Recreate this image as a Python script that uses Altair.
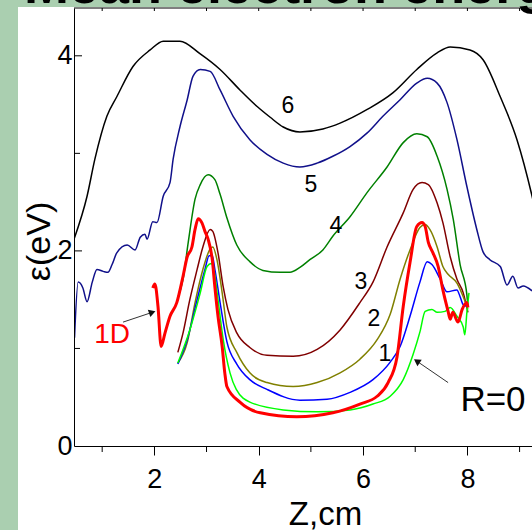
import altair as alt
import pandas as pd

FONT = "Liberation Sans"

# Mean electron energy eps (eV) along the axis Z (cm) for several radii
z6 = [0.46, 0.71, 0.86, 1.09, 1.28, 1.59, 1.92, 2.17, 2.49, 2.88, 3.26, 3.64, 3.97, 4.22,
      4.47, 4.79, 5.23, 5.56, 6.08, 6.57, 7.03, 7.42, 7.67, 8.05, 8.30, 8.63, 8.95, 9.24, 9.35]
e6 = [2.12, 2.56, 2.94, 3.38, 3.58, 3.89, 4.06, 4.15, 4.15, 4.02, 3.86, 3.65, 3.48, 3.37,
      3.27, 3.22, 3.25, 3.31, 3.45, 3.62, 3.86, 4.03, 4.09, 4.06, 3.96, 3.58, 3.14, 2.56, 2.30]

z5 = [0.47, 0.54, 0.63, 0.71, 0.81, 0.90, 1.02, 1.11, 1.19, 1.28, 1.48, 1.63, 1.73, 1.82,
      1.86, 1.97, 2.05, 2.17, 2.30, 2.36, 2.49, 2.63, 2.74, 2.88, 3.07, 3.26, 3.51, 3.83,
      4.16, 4.47, 4.79, 5.12, 5.42, 5.75, 6.08, 6.38, 6.71, 7.03, 7.23, 7.42, 7.61, 7.80,
      7.99, 8.18, 8.30, 8.43, 8.63, 8.76, 8.87, 8.97, 9.07, 9.24]
e5 = [1.11, 1.68, 1.62, 1.48, 1.68, 1.81, 1.79, 1.78, 1.86, 1.98, 2.06, 2.01, 2.14, 2.17,
      2.12, 2.30, 2.29, 2.56, 2.70, 2.94, 3.27, 3.55, 3.79, 3.86, 3.84, 3.65, 3.38, 3.14,
      2.99, 2.90, 2.86, 2.90, 2.97, 3.07, 3.21, 3.38, 3.55, 3.72, 3.77, 3.72, 3.52, 3.14,
      2.66, 2.22, 1.99, 1.91, 1.84, 1.65, 1.74, 1.62, 1.64, 1.59]

z4 = [2.45, 2.55, 2.65, 2.78, 2.88, 3.03, 3.16, 3.26, 3.39, 3.58, 3.83, 4.08, 4.41, 4.60,
      4.79, 4.98, 5.23, 5.42, 5.75, 6.08, 6.46, 6.77, 7.03, 7.23, 7.42, 7.61, 7.73, 7.86,
      7.99, 8.01]
e4 = [1.52, 1.71, 2.09, 2.53, 2.68, 2.78, 2.73, 2.58, 2.34, 2.06, 1.89, 1.80, 1.78, 1.78,
      1.83, 1.91, 2.01, 2.15, 2.35, 2.60, 2.86, 3.11, 3.20, 3.17, 2.97, 2.63, 2.32, 1.86,
      1.55, 1.43]

z3 = [2.45, 2.55, 2.68, 2.82, 2.93, 3.07, 3.12, 3.22, 3.32, 3.41, 3.58, 3.83, 4.16, 4.66,
      5.12, 5.56, 5.94, 6.19, 6.46, 6.77, 6.96, 7.13, 7.25, 7.42, 7.53, 7.67, 7.80, 7.92,
      8.01]
e3 = [0.96, 1.16, 1.50, 1.81, 2.04, 2.22, 2.20, 1.98, 1.63, 1.40, 1.16, 1.01, 0.93, 0.92,
      0.99, 1.19, 1.47, 1.68, 2.04, 2.39, 2.63, 2.70, 2.68, 2.49, 2.29, 1.94, 1.71, 1.57,
      1.37]

z2 = [2.45, 2.63, 2.78, 2.93, 3.07, 3.12, 3.20, 3.30, 3.39, 3.58, 3.83, 4.16, 4.66, 5.12,
      5.56, 5.94, 6.27, 6.52, 6.71, 6.90, 7.09, 7.19, 7.28, 7.42, 7.53, 7.63, 7.80, 7.92,
      8.01]
e2 = [0.85, 1.06, 1.47, 1.81, 2.02, 2.04, 1.91, 1.57, 1.22, 0.96, 0.75, 0.65, 0.61, 0.65,
      0.75, 0.89, 1.09, 1.35, 1.71, 2.01, 2.24, 2.27, 2.22, 2.04, 1.84, 1.76, 1.67, 1.53,
      1.40]

z1 = [2.45, 2.63, 2.82, 2.97, 3.05, 3.11, 3.16, 3.26, 3.39, 3.58, 3.83, 4.16, 4.79, 5.31,
      5.75, 6.19, 6.52, 6.71, 6.90, 7.09, 7.23, 7.32, 7.48, 7.61, 7.80, 7.86, 7.92, 8.01]
e1 = [0.84, 1.09, 1.50, 1.81, 1.95, 1.95, 1.81, 1.47, 1.07, 0.84, 0.68, 0.58, 0.47, 0.48,
      0.55, 0.68, 0.86, 1.02, 1.33, 1.68, 1.89, 1.86, 1.71, 1.58, 1.60, 1.53, 1.45, 1.43]

z0 = [2.45, 2.68, 2.88, 3.01, 3.09, 3.14, 3.22, 3.32, 3.45, 3.57, 3.83, 4.47, 5.12, 5.75,
      6.19, 6.52, 6.77, 6.96, 7.09, 7.19, 7.32, 7.42, 7.57, 7.67, 7.80, 7.92, 7.95, 7.99,
      8.03]
e0 = [0.85, 1.19, 1.57, 1.84, 1.87, 1.81, 1.50, 1.09, 0.75, 0.58, 0.45, 0.37, 0.35, 0.37,
      0.43, 0.51, 0.68, 0.94, 1.17, 1.38, 1.40, 1.37, 1.38, 1.42, 1.33, 1.22, 1.14, 1.37,
      1.57]

# one-dimensional model
z1d = [1.97, 2.01, 2.07, 2.13, 2.20, 2.30, 2.43, 2.55, 2.63, 2.72, 2.78, 2.84, 2.91, 2.97,
       3.03, 3.11, 3.16, 3.22, 3.30, 3.35, 3.39, 3.64, 4.03, 4.73, 5.42, 5.94, 6.27, 6.48,
       6.65, 6.77, 6.90, 7.03, 7.13, 7.19, 7.25, 7.34, 7.44, 7.53, 7.63, 7.67, 7.72, 7.82,
       7.90, 7.99, 8.01]
e1d = [1.62, 1.66, 1.43, 1.02, 1.15, 1.33, 1.47, 1.74, 1.94, 2.04, 2.22, 2.33, 2.29, 2.20,
       2.12, 1.91, 1.63, 1.33, 1.02, 0.75, 0.61, 0.45, 0.34, 0.30, 0.34, 0.43, 0.51, 0.65,
       0.91, 1.43, 1.88, 2.25, 2.29, 2.25, 2.09, 1.98, 1.84, 1.60, 1.38, 1.30, 1.37, 1.27,
       1.40, 1.47, 1.42]

curve_names = ["6", "5", "4", "3", "2", "1", "R=0"]
curve_colors = ["#000000", "#10108a", "#008000", "#800000", "#808000", "#0000ff", "#00ff00"]
series = [("6", z6, e6), ("5", z5, e5), ("4", z4, e4), ("3", z3, e3),
          ("2", z2, e2), ("1", z1, e1), ("R=0", z0, e0)]

# curve labels
label_text = ["6", "5", "4", "3", "2", "1"]
label_z = [4.56, 5.00, 5.48, 5.96, 6.21, 6.42]
label_e = [3.49, 2.68, 2.26, 1.68, 1.30, 0.94]

# annotations with arrows
note_text = ["1D", "R=0"]
note_z = [1.19, 8.49]
note_e = [1.14, 0.47]
note_color = ["#ff0000", "#000000"]
note_size = [28, 35]
arrow_z = [1.40, 7.63]
arrow_e = [1.27, 0.65]
arrow_z2 = [1.96, 7.03]
arrow_e2 = [1.37, 0.87]
arrow_angle = [341, 214]

# axis ticks
x_label_ticks = [2, 4, 6, 8]
x_minor_ticks = [1, 3, 5, 7, 9]
top_ticks = [1, 2, 3, 4, 5, 6, 7, 8, 9]
y_label_ticks = [0, 2, 4]
y_major_ticks = [2, 4]
y_minor_ticks = [1, 3]

rows = []
for name, zs, es in series:
    for i, (z, e) in enumerate(zip(zs, es)):
        rows.append({"curve": name, "z": z, "eps": e, "i": i})
lines_df = pd.DataFrame(rows)
oned_df = pd.DataFrame({"z": z1d, "eps": e1d, "i": list(range(len(z1d)))})
labels_df = pd.DataFrame({"z": label_z, "eps": label_e, "t": label_text})
notes_df = pd.DataFrame({"z": note_z, "eps": note_e, "t": note_text,
                         "c": note_color, "s": note_size})
arrows_df = pd.DataFrame({"z": arrow_z, "eps": arrow_e, "z2": arrow_z2, "eps2": arrow_e2,
                          "ang": arrow_angle})
one_df = pd.DataFrame({"k": [0]})

W, H = 458, 438
xscale = alt.Scale(domain=[0.46, 9.238], nice=False, zero=False)
yscale = alt.Scale(domain=[0, 4.49], nice=False, zero=False)

x_axis = alt.Axis(values=x_label_ticks, title="Z,cm", grid=False, domainColor="black",
                  domainWidth=1, tickColor="black", tickSize=9, tickWidth=1,
                  labelFont=FONT, labelFontSize=27, labelColor="black", labelPadding=32,
                  labelBaseline="alphabetic", labelFlush=False, labelOverlap=False,
                  titleFont=FONT, titleFontSize=33, titleFontWeight="normal",
                  titleColor="black", titleX=251, titleY=78, titleBaseline="alphabetic",
                  titleAlign="center", zindex=1)
y_axis = alt.Axis(values=y_label_ticks, title="ε(eV)", grid=False, domainColor="black",
                  domainWidth=1, ticks=False, tickSize=0, labelFont=FONT, labelFontSize=27,
                  labelColor="black", labelPadding=2, labelFlush=False, labelOverlap=False,
                  titleFont=FONT, titleFontSize=34, titleFontWeight="normal",
                  titleColor="black", titleAngle=270, titleX=-35, titleY=233,
                  titleAlign="center", titleBaseline="middle", zindex=1)


def X(field):
    return alt.X(field, type="quantitative", scale=xscale, axis=x_axis)


def Y(field):
    return alt.Y(field, type="quantitative", scale=yscale, axis=y_axis)


# white slide panel behind the plot
panel = alt.Chart(one_df).mark_rect(color="white").encode(
    x=alt.value(-56), x2=alt.value(W), y=alt.value(-1), y2=alt.value(H + 84))

# slide heading, running off the top edge of the page
heading = alt.Chart(one_df).mark_text(
    text="Mean electron energy", align="left", baseline="alphabetic", font=FONT,
    fontSize=54, fontWeight="bold", color="black").encode(
    x=alt.value(-50), y=alt.value(-5))

top_frame = alt.Chart(one_df).mark_rule(color="black", strokeWidth=1).encode(
    x=alt.value(0), x2=alt.value(W), y=alt.value(0))
top_tick_marks = alt.Chart(pd.DataFrame({"z": top_ticks})).mark_rule(
    color="black", strokeWidth=1).encode(x=X("z"), y=alt.value(0), y2=alt.value(3))
x_minor = alt.Chart(pd.DataFrame({"z": x_minor_ticks})).mark_rule(
    color="black", strokeWidth=1).encode(x=X("z"), y=alt.value(H), y2=alt.value(H + 6))
y_major = alt.Chart(pd.DataFrame({"eps": y_major_ticks})).mark_rule(
    color="black", strokeWidth=1).encode(y=Y("eps"), x=alt.value(0), x2=alt.value(8))
y_minor = alt.Chart(pd.DataFrame({"eps": y_minor_ticks})).mark_rule(
    color="black", strokeWidth=1).encode(y=Y("eps"), x=alt.value(0), x2=alt.value(6))

curves = alt.Chart(lines_df).mark_line(strokeWidth=1.5, interpolate="monotone",
                                       clip=True).encode(
    x=X("z"), y=Y("eps"),
    color=alt.Color("curve:N", scale=alt.Scale(domain=curve_names, range=curve_colors),
                    legend=None),
    order="i:Q")

oned = alt.Chart(oned_df).mark_line(strokeWidth=3, color="#ff0000",
                                    interpolate="monotone", clip=True).encode(
    x=X("z"), y=Y("eps"), order="i:Q")

labels = alt.Chart(labels_df).mark_text(font=FONT, fontSize=23, color="black",
                                        align="center", baseline="middle").encode(
    x=X("z"), y=Y("eps"), text="t:N")

notes = alt.Chart(notes_df).mark_text(font=FONT, align="center", baseline="middle").encode(
    x=X("z"), y=Y("eps"), text="t:N",
    color=alt.Color("c:N", scale=None), size=alt.Size("s:Q", scale=None))

arrow_lines = alt.Chart(arrows_df).mark_rule(color="#333333", strokeWidth=1).encode(
    x=X("z"), y=Y("eps"), x2="z2", y2="eps2")
arrow_heads = alt.Chart(arrows_df).mark_point(shape="triangle-right", filled=True,
                                              color="#111111", size=60, opacity=1).encode(
    x=X("z2"), y=Y("eps2"), angle=alt.Angle("ang:Q", scale=None))

chart = alt.layer(
    panel, heading, top_frame, top_tick_marks, x_minor, y_major, y_minor,
    curves, oned, labels, notes, arrow_lines, arrow_heads
).properties(
    width=W, height=H,
    padding={"left": 74, "top": 8, "right": 0, "bottom": 84},
    autosize=alt.AutoSizeParams(type="none"),
    background="#aacfb0",
).configure_view(strokeWidth=0)

chart.save("out.html", embed_options={"renderer": "svg", "actions": False})
